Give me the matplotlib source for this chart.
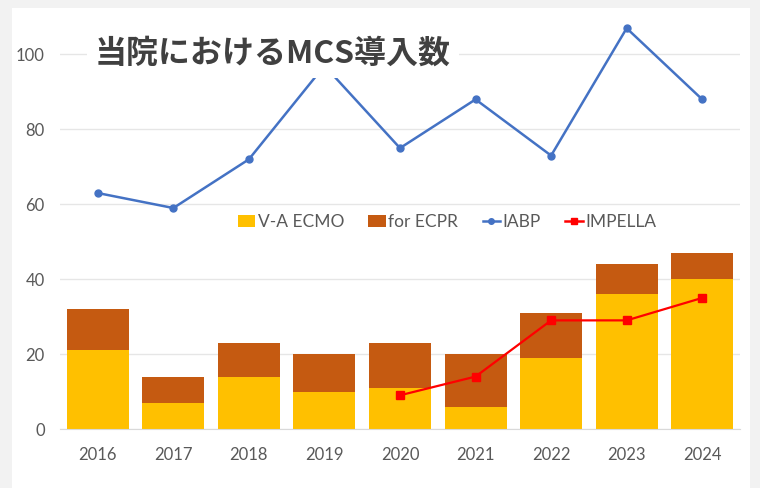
import matplotlib

matplotlib.use("Agg")
import matplotlib.pyplot as plt  # noqa: E402
from matplotlib.lines import Line2D
from matplotlib.patches import Patch, Rectangle

years = ["2016", "2017", "2018", "2019", "2020", "2021", "2022", "2023", "2024"]
va_ecmo = [21, 7, 14, 10, 11, 6, 19, 36, 40]
ecpr = [11, 7, 9, 10, 12, 14, 12, 8, 7]
iabp = [63, 59, 72, 97, 75, 88, 73, 107, 88]
impella_years = ["2020", "2021", "2022", "2023", "2024"]
impella = [9, 14, 29, 29, 35]

COLORS = {
    "va": "#FFC000",
    "ecpr": "#C55A11",
    "iabp": "#4472C4",
    "impella": "#FF0000",
    "tick": "#595959",
    "grid": "#E6E6E6",
    "title": "#404040",
}

plt.rcParams["font.family"] = ["Lato", "DejaVu Sans"]

fig = plt.figure(figsize=(7.6, 4.88), dpi=100, facecolor="#F2F2F2")
fig.patches.append(Rectangle((12 / 760, 0), 738 / 760, 480 / 488, transform=fig.transFigure,
                             facecolor="white", edgecolor="none", zorder=-5))

ax = fig.add_axes([60 / 760, 59 / 488, 680 / 760, 412 / 488])
ax.set_facecolor("none")

x = list(range(len(years)))
ax.bar(x, va_ecmo, width=0.82, color=COLORS["va"], zorder=2)
ax.bar(x, ecpr, width=0.82, bottom=va_ecmo, color=COLORS["ecpr"], zorder=2)
ax.plot(x, iabp, color=COLORS["iabp"], linewidth=1.8, marker="o", markersize=5, zorder=3)
imp_x = [years.index(y) for y in impella_years]
ax.plot(imp_x, impella, color=COLORS["impella"], linewidth=1.6, marker="s", markersize=6, zorder=3)

ax.set_xlim(-0.5, len(years) - 0.5)
ax.set_ylim(0, 110)
ax.set_yticks([0, 20, 40, 60, 80, 100])
ax.set_xticks(x, years)
ax.grid(axis="y", color=COLORS["grid"], linewidth=1, zorder=0)
ax.set_axisbelow(True)
for side in ["top", "right", "left"]:
    ax.spines[side].set_visible(False)
ax.spines["bottom"].set_color("#D9D9D9")
ax.tick_params(length=0, colors=COLORS["tick"], labelsize=12)
ax.tick_params(axis="x", pad=13)
ax.tick_params(axis="y", pad=11)

handles = [
    Patch(facecolor=COLORS["va"], label="V-A ECMO"),
    Patch(facecolor=COLORS["ecpr"], label="for ECPR"),
    Line2D([], [], color=COLORS["iabp"], marker="o", markersize=4, linewidth=1.8, label="IABP"),
    Line2D([], [], color=COLORS["impella"], marker="s", markersize=5, linewidth=1.8, label="IMPELLA"),
]
leg = ax.legend(handles=handles, loc="center", bbox_to_anchor=(0.569, 0.502), ncol=4,
                frameon=False, fontsize=12.5, handlelength=1.0, handletextpad=0.15,
                columnspacing=1.4, labelcolor=COLORS["tick"])
leg.set_zorder(4)

fig.text(95 / 760, 1 - 54 / 488, "当院におけるMCS導入数", fontsize=23, fontweight="bold",
         color=COLORS["title"], ha="left", va="center",
         family=["Noto Sans CJK JP", "DejaVu Sans"],
         bbox=dict(facecolor="white", edgecolor="none", pad=6), zorder=5)

fig.savefig("out.png", dpi=100, facecolor=fig.get_facecolor())
